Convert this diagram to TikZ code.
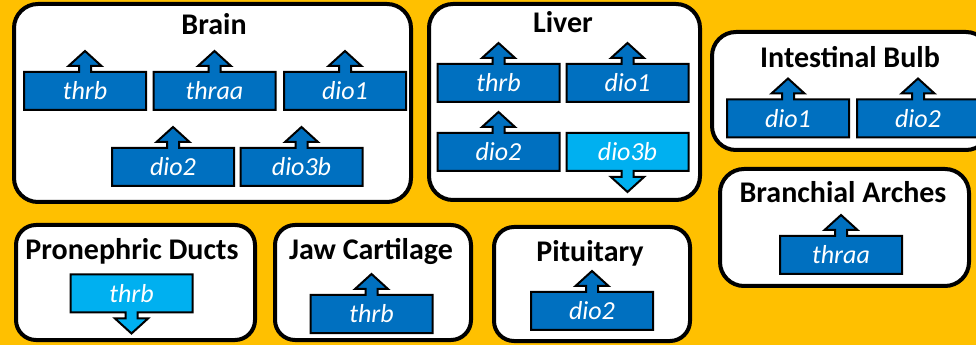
\documentclass[tikz,border=0pt]{standalone}
\usepackage{fontspec}
\setmainfont{Carlito}
\usepackage{tikz}
\usetikzlibrary{positioning,calc}
\definecolor{bgorange}{HTML}{FFC000}
\definecolor{blu}{HTML}{0070C0}
\definecolor{ltblu}{HTML}{00B0F0}
\tikzset{
  panel/.style  ={draw,line width=4pt,rounded corners=24pt,fill=white,inner sep=0pt,outer sep=0pt},
  title/.style  ={font=\bfseries\fontsize{30}{32}\selectfont,anchor=base,inner sep=0pt},
  gene/.style   ={rectangle,minimum width=122pt,minimum height=38pt,inner sep=0pt,outer sep=0pt},
  genetxt/.style={font=\itshape\fontsize{26}{28}\selectfont,text=white,inner sep=0pt},
  callout/.style={draw=black,line width=2pt,line join=miter},
}
% up / down arrow callouts hung on a gene node
\newcommand\upcall[3][blu]{%
  \draw[callout,fill=#1] (#2.south west) -- (#2.north west) -- ([xshift=-6pt]#2.north)
    -- ++(0,6) -- ++(-10.5,0) -- ([yshift=21pt]#2.north) -- ([xshift=16.5pt,yshift=6pt]#2.north)
    -- ++(-10.5,0) -- ++(0,-6) -- (#2.north east) -- (#2.south east) -- cycle;
  \node[genetxt] at (#2) {#3};}
\newcommand\downcall[3][ltblu]{%
  \draw[callout,fill=#1] (#2.north west) -- (#2.south west) -- ([xshift=-6pt]#2.south)
    -- ++(0,-6) -- ++(-10.5,0) -- ([yshift=-21pt]#2.south) -- ([xshift=16.5pt,yshift=-6pt]#2.south)
    -- ++(-10.5,0) -- ++(0,6) -- (#2.south east) -- (#2.north east) -- cycle;
  \node[genetxt] at (#2) {#3};}

\begin{document}
\begin{tikzpicture}[x=1pt,y=1pt]
  \fill[bgorange] (0,0) rectangle (976,345);
  \clip (0,0) rectangle (976,345);

  % panels
  \node[panel,minimum width=397pt,minimum height=198pt] (brain) at (212.5,242) {};
  \node[panel,minimum width=271pt,minimum height=196pt] (liver) at (564.5,243) {};
  \node[panel,minimum width=278pt,minimum height=118pt] (bulb) at (851,254) {};
  \node[panel,minimum width=249pt,minimum height=117pt] (arches) at (844.5,117.5) {};
  \node[panel,minimum width=239pt,minimum height=115pt,rounded corners=20pt] (ducts) at (135.5,62.5) {};
  \node[panel,minimum width=196pt,minimum height=115pt,rounded corners=20pt] (jaw) at (373,62.5) {};
  \node[panel,minimum width=196pt,minimum height=114pt,rounded corners=20pt] (pit) at (592,61) {};

  \node[title] (brainT) at (214,310) {Brain};
  \node[title] (liverT) at (563,312) {Liver};
  \node[title] (bulbT) at (850,277) {Intestinal Bulb};
  \node[title] (archesT) at (843,142) {Branchial Arches};
  \node[title] (ductsT) at (132,85) {Pronephric Ducts};
  \node[title] (jawT) at (371,85) {Jaw Cartilage};
  \node[title] (pitT) at (590,83) {Pituitary};

  % brain
  \node[gene] (brThrb) at (85,254) {};   \upcall{brThrb}{thrb}
  \node[gene] (brThraa) at (214.5,254) {}; \upcall{brThraa}{thraa}
  \node[gene] (brDioA) at (345,254) {};  \upcall{brDioA}{dio1}
  \node[gene] (brDioB) at (173,178) {};  \upcall{brDioB}{dio2}
  \node[gene] (brDioC) at (301.5,178) {}; \upcall{brDioC}{dio3b}
  % liver
  \node[gene] (lvThrb) at (498.5,262) {}; \upcall{lvThrb}{thrb}
  \node[gene] (lvDioA) at (627.5,262) {}; \upcall{lvDioA}{dio1}
  \node[gene] (lvDioB) at (498.5,193) {}; \upcall{lvDioB}{dio2}
  \node[gene] (lvDioC) at (627.5,193) {}; \downcall{lvDioC}{dio3b}
  % intestinal bulb
  \node[gene] (ibDioA) at (788,226.5) {}; \upcall{ibDioA}{dio1}
  \node[gene] (ibDioB) at (918,226.5) {}; \upcall{ibDioB}{dio2}
  % the lower panels
  \node[gene] (baThraa) at (841,90) {};  \upcall{baThraa}{thraa}
  \node[gene] (pdThrb) at (131.5,51.5) {}; \downcall{pdThrb}{thrb}
  \node[gene] (jcThrb) at (371.5,31) {};  \upcall{jcThrb}{thrb}
  \node[gene] (ptDio) at (592,34) {};     \upcall{ptDio}{dio2}
\end{tikzpicture}
\end{document}
